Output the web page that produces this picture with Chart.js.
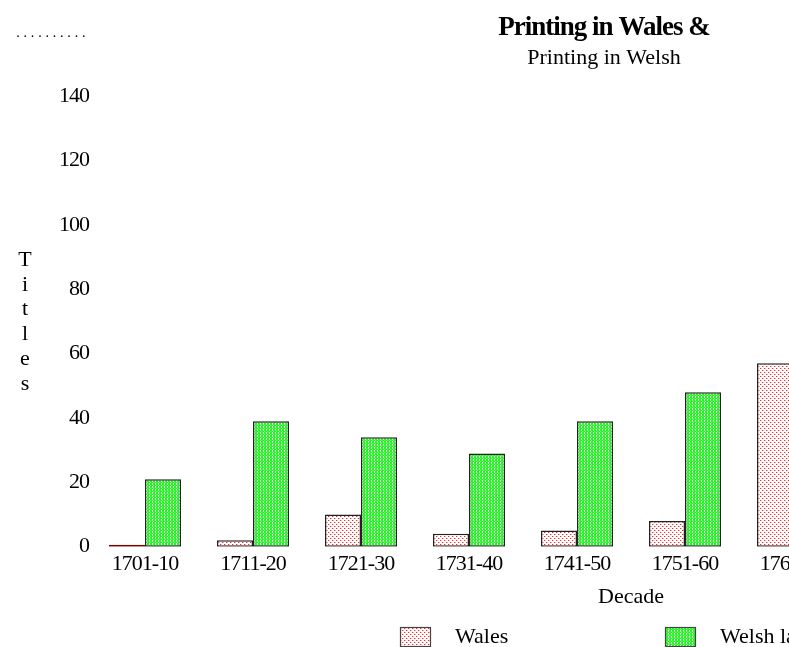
<!DOCTYPE html>
<html>
<head>
<meta charset="utf-8">
<style>
  html, body { margin: 0; padding: 0; background: #fff; overflow: hidden; }
  #wrap { width: 1208px; height: 647px; }
</style>
<script src="https://cdn.jsdelivr.net/npm/chart.js@4/dist/chart.umd.min.js"></script>
</head>
<body>
<div id="wrap"><canvas id="c" width="1208" height="647"></canvas></div>
<script>
// Titles printed per decade
const decades = ['1701-10', '1711-20', '1721-30', '1731-40', '1741-50', '1751-60', '1761-70', '1771-80', '1781-90', '1791-1800'];
const walesTitles = [0, 2, 10, 4, 5, 8, 57, null, null, null];
const welshTitles = [21, 39, 34, 29, 39, 48, null, null, null, null];
const yTicks = [0, 20, 40, 60, 80, 100, 120, 140];
const seriesNames = ['Wales', 'Welsh language'];

const SERIF = '"Liberation Serif", "Times New Roman", serif';

// Dotted fills for the two series
function makePattern(w, h, bg, dots) {
  const t = document.createElement('canvas');
  t.width = w; t.height = h;
  const g = t.getContext('2d');
  g.fillStyle = bg;
  g.fillRect(0, 0, w, h);
  dots.forEach(([x, y, c]) => { g.fillStyle = c; g.fillRect(x, y, 1, 1); });
  return g.createPattern(t, 'repeat');
}
const walesFill = makePattern(4, 4, '#ffffff', [
  [0, 0, '#ff2a2a'], [1, 0, '#ffb0b0'], [2, 2, '#ff2a2a'], [3, 2, '#ffb0b0']
]);
const welshFill = makePattern(3, 3, '#2bf02b', [
  [2, 0, '#ffffff'], [2, 1, '#b0ffb0'], [0, 2, '#5cff5c']
]);

// Tighter letter spacing for the main title and the tick labels
function withSpacing(obj, method, spacing) {
  if (!obj || obj['_spaced_' + method]) return;
  const orig = obj[method].bind(obj);
  obj[method] = function (...args) {
    const ctx = this.ctx;
    ctx.save();
    if ('letterSpacing' in ctx) ctx.letterSpacing = spacing;
    orig(...args);
    ctx.restore();
  };
  obj['_spaced_' + method] = true;
}
const tightText = {
  id: 'tightText',
  beforeDraw(chart) {
    withSpacing(chart.titleBlock, 'draw', '-1px');
    withSpacing(chart.scales.x, 'drawLabels', '-1px');
    withSpacing(chart.scales.y, 'drawLabels', '-1px');
  }
};

// Extra text: stacked axis caption, dotted mark, legend
const decorations = {
  id: 'decorations',
  afterDraw(chart) {
    const ctx = chart.ctx;
    ctx.save();
    ctx.fillStyle = '#000';

    // dotted mark, top left
    ctx.font = '14px ' + SERIF;
    ctx.textAlign = 'center';
    ctx.textBaseline = 'alphabetic';
    for (let i = 0; i < 10; i++) ctx.fillText('.', 18 + i * 7.3, 37);

    // vertical caption
    ctx.font = '22px ' + SERIF;
    ctx.textBaseline = 'middle';
    'Titles'.split('').forEach((ch, i) => ctx.fillText(ch, 25, 260 + i * 24.8));

    // legend
    const fills = [walesFill, welshFill];
    const boxX = [400, 665];
    ctx.textAlign = 'left';
    chart.data.datasets.forEach((ds, i) => {
      ctx.fillStyle = fills[i];
      ctx.fillRect(boxX[i], 627, 30, 19);
      ctx.strokeStyle = '#444';
      ctx.lineWidth = 1.2;
      ctx.strokeRect(boxX[i] + 0.5, 627.5, 30, 19);
      ctx.fillStyle = '#000';
      ctx.fillText(ds.label, boxX[i] + 55, 637);
    });
    ctx.restore();
  }
};

new Chart(document.getElementById('c'), {
  type: 'bar',
  data: {
    labels: decades,
    datasets: [
      {
        label: seriesNames[0],
        data: walesTitles,
        backgroundColor: walesFill,
        borderColor: c => (c.raw === 0 ? '#7a0000' : '#222'),
        borderWidth: 1.5,
        borderSkipped: false,
        minBarLength: 2
      },
      {
        label: seriesNames[1],
        data: welshTitles,
        backgroundColor: welshFill,
        borderColor: '#222',
        borderWidth: 1.5,
        borderSkipped: false
      }
    ]
  },
  options: {
    responsive: false,
    animation: false,
    devicePixelRatio: 1,
    layout: { padding: { left: 0, right: 0, top: 0, bottom: 25 } },
    datasets: { bar: { categoryPercentage: 0.667, barPercentage: 1 } },
    plugins: {
      legend: { display: false },
      tooltip: { enabled: false },
      title: {
        display: true,
        text: 'Printing in Wales &',
        color: '#000',
        font: { family: SERIF, size: 27, weight: 'bold' },
        padding: { top: 11.8, bottom: 0 }
      },
      subtitle: {
        display: true,
        text: 'Printing in Welsh',
        color: '#000',
        font: { family: SERIF, size: 22 },
        padding: { top: 0.5, bottom: 25.1 }
      }
    },
    scales: {
      x: {
        grid: { display: false, drawTicks: false },
        border: { display: false },
        ticks: { color: '#000', font: { family: SERIF, size: 22 }, padding: 4.3, maxRotation: 0, autoSkip: false },
        title: {
          display: true,
          text: 'Decade',
          color: '#000',
          font: { family: SERIF, size: 22 },
          padding: { top: 0, bottom: 12 }
        },
        afterFit: s => { s.height = 75.3; }
      },
      y: {
        min: 0,
        max: 140,
        grid: { display: false, drawTicks: false },
        border: { display: false },
        afterBuildTicks: s => { s.ticks = yTicks.map(v => ({ value: v })); },
        ticks: { color: '#000', font: { family: SERIF, size: 22 }, padding: 2 },
        afterFit: s => { s.width = 91; }
      },
      yRight: {
        position: 'right',
        min: 0,
        max: 140,
        grid: { display: false, drawTicks: false },
        border: { display: false },
        ticks: { display: false },
        afterFit: s => { s.width = 37; }
      }
    }
  },
  plugins: [tightText, decorations]
});
</script>
</body>
</html>
